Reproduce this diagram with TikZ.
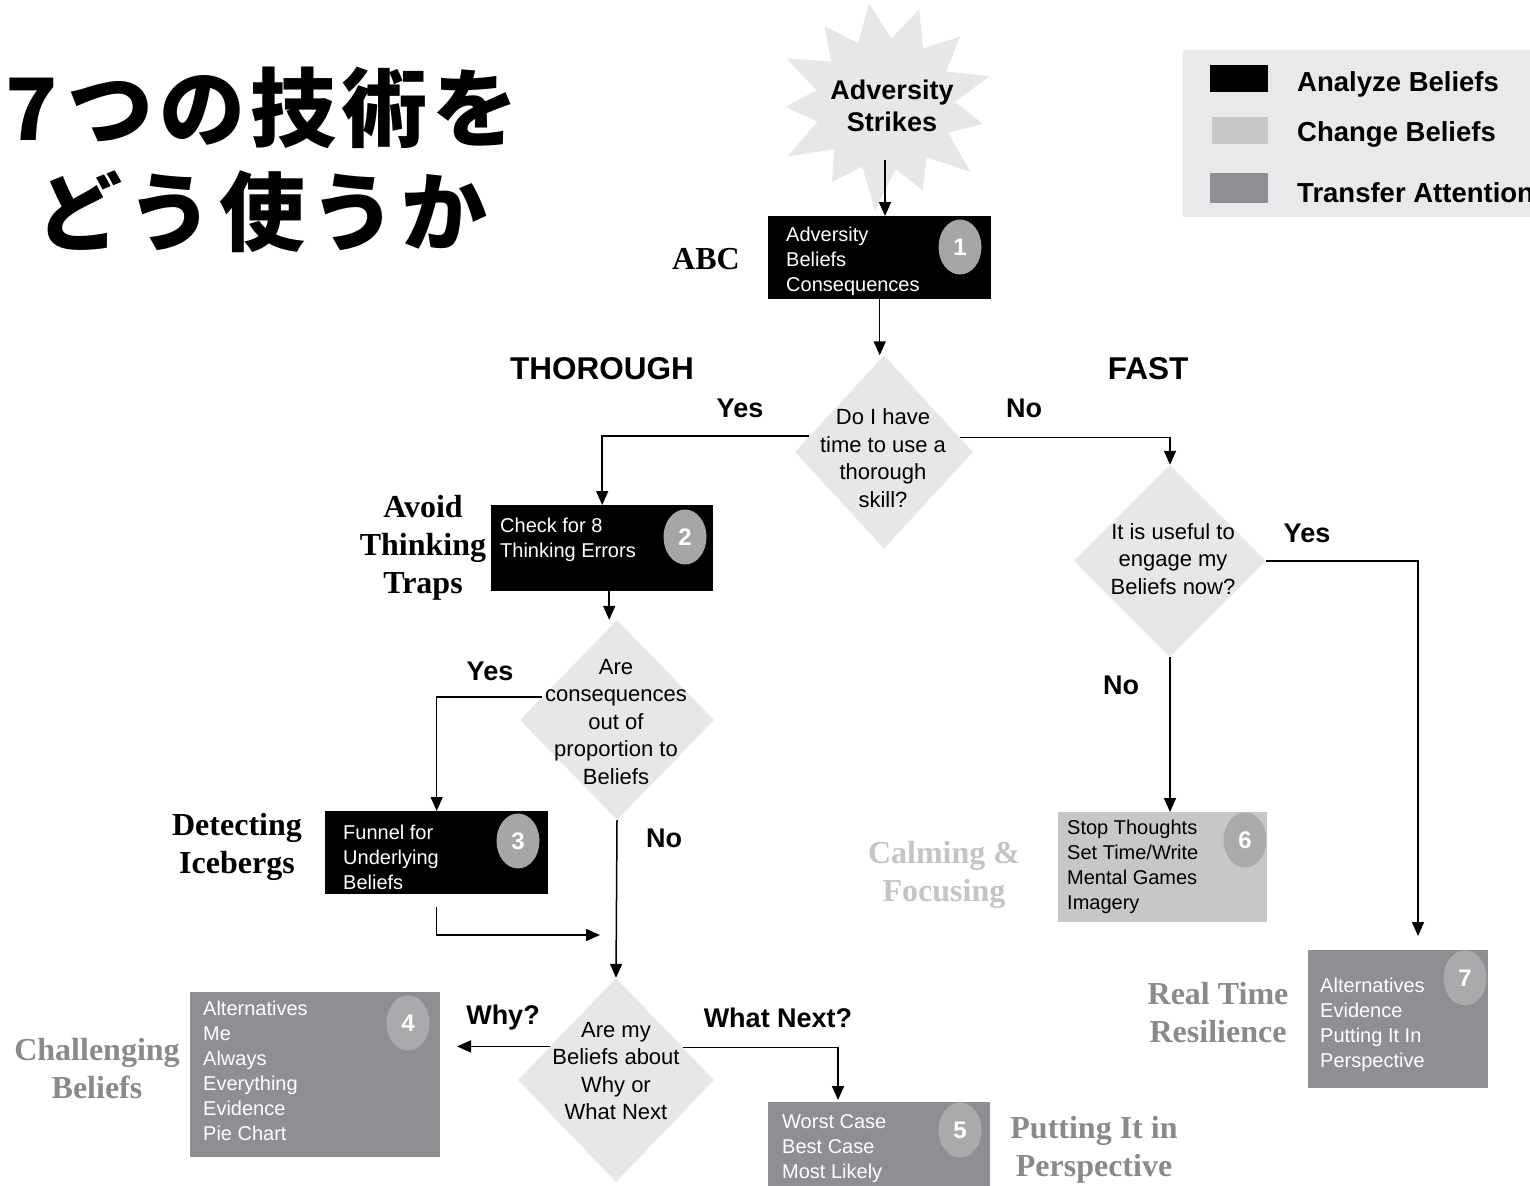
\documentclass[tikz,border=0pt]{standalone}
\usepackage{fontspec}
\setmainfont{Liberation Serif}
\setsansfont{Liberation Sans}
\newfontfamily\cjk{Noto Sans CJK JP}[LetterSpace=6]
\usetikzlibrary{shapes.geometric,arrows.meta,calc}
\definecolor{lightfill}{HTML}{E6E7E9}
\definecolor{legfill}{HTML}{E8E9EB}
\definecolor{midgray}{HTML}{8E8F92}
\definecolor{lightbox}{HTML}{C6C7C9}
\definecolor{circblack}{HTML}{A6A6A6}
\definecolor{circgray}{HTML}{A9AAAC}
\definecolor{labgray}{HTML}{8A8A8A}
\definecolor{labpale}{HTML}{C4C4C4}
\newcommand\fl{\rule{0pt}{15pt}}
\begin{document}
\begin{tikzpicture}[x=1pt,y=-1pt,
  ln/.style={line width=1.5pt},
  arr/.style={line width=1.5pt,-{Triangle[length=14pt,width=12pt]}},
  boxbase/.style={rectangle,inner sep=0,anchor=north west},
  blackbox/.style={boxbase,fill=black},
  graybox/.style={boxbase,fill=midgray},
  palebox/.style={boxbase,fill=lightbox},
  numc/.style={ellipse,minimum width=43pt,minimum height=55pt,inner sep=0,text=white,font=\sffamily\bfseries\fontsize{24}{24}\selectfont},
  btxt/.style={anchor=north west,inner sep=0,align=left,font=\sffamily\fontsize{20}{25}\selectfont},
  dia/.style={diamond,fill=lightfill,inner sep=0},
  dtxt/.style={align=center,inner sep=0,font=\sffamily\fontsize{22}{27.5}\selectfont},
  lbl/.style={inner sep=0,font=\sffamily\bfseries\fontsize{27}{27}\selectfont},
  head/.style={inner sep=0,font=\sffamily\bfseries\fontsize{31.5}{32}\selectfont},
  ser/.style={inner sep=0,align=center,font=\rmfamily\bfseries\fontsize{32}{38}\selectfont},
  legtxt/.style={anchor=west,inner sep=0,font=\sffamily\bfseries\fontsize{27.5}{28}\selectfont}
]
\useasboundingbox (0,0) rectangle (1530,1185);
\clip (0,0) rectangle (1530,1185);
\fill[white] (0,0) rectangle (1530,1185);

% title
\node[align=center,inner sep=0,font=\cjk\bfseries\fontsize{86}{104}\selectfont] (title) at (262,160) {7\hspace{10pt}つの技術を\\どう使うか};

% legend
\node[boxbase,fill=legfill,minimum width=347pt,minimum height=167pt] (leg) at (1183,50) {};
\node[boxbase,fill=black,minimum width=58pt,minimum height=27pt] (s1) at (1210,65) {};
\node[boxbase,fill=lightbox,minimum width=56pt,minimum height=27pt] (s2) at (1212,117) {};
\node[boxbase,fill=midgray,minimum width=58pt,minimum height=30pt] (s3) at (1210,173) {};
\node[legtxt] (l1) at (1297,84) {Analyze Beliefs};
\node[legtxt] (l2) at (1297,134) {Change Beliefs};
\node[legtxt] (l3) at (1297,193) {Transfer Attention};

% star
\fill[lightfill] plot[samples at={0,...,25},variable=\k]
  ({885+1.03*(mod(\k,2)==0?(102+7*sin(\k*97)):68)*cos(\k*13.846-71)},{104+(mod(\k,2)==0?(100+7*sin(\k*97)):66)*sin(\k*13.846-71)}) -- cycle;
\node[align=center,inner sep=0,font=\sffamily\bfseries\fontsize{27}{32}\selectfont] (stt) at (892,106) {Adversity\\Strikes};
\coordinate (st) at (885,160);

% boxes
\node[blackbox,minimum width=223pt,minimum height=83pt] (b1) at (768,216) {};
\node[blackbox,minimum width=222pt,minimum height=86pt] (b2) at (491,505) {};
\node[blackbox,minimum width=223pt,minimum height=83pt] (b3) at (325,811) {};
\node[graybox,minimum width=250pt,minimum height=165pt] (b4) at (190,992) {};
\node[graybox,minimum width=222pt,minimum height=90pt] (b5) at (768,1102) {};
\node[palebox,minimum width=209pt,minimum height=110pt] (b6) at (1058,812) {};
\node[graybox,minimum width=180pt,minimum height=138pt] (b7) at (1308,950) {};

\node[numc,fill=circblack] (c1) at (960,247) {1};
\node[numc,fill=circblack] (c2) at (685,537) {2};
\node[numc,fill=circblack] (c3) at (518,841) {3};
\node[numc,fill=circgray] (c4) at (408,1023) {4};
\node[numc,fill=circgray] (c5) at (960,1130) {5};
\node[numc,fill=circgray] (c6) at (1245,840) {6};
\node[numc,fill=circgray] (c7) at (1465,978) {7};

\node[btxt,text=white] (t1) at (786,226) {\fl Adversity\\Beliefs\\Consequences};
\node[btxt,text=white] (t2) at (500,517) {\fl Check for 8\\Thinking Errors};
\node[btxt,text=white] (t3) at (343,824) {\fl Funnel for\\Underlying\\Beliefs};
\node[btxt,text=white] (t4) at (203,1000) {\fl Alternatives\\Me\\Always\\Everything\\Evidence\\Pie Chart};
\node[btxt,text=white] (t5) at (782,1113) {\fl Worst Case\\Best Case\\Most Likely};
\node[btxt,text=black] (t6) at (1067,819) {\fl Stop Thoughts\\Set Time/Write\\Mental Games\\Imagery};
\node[btxt,text=white] (t7) at (1320,977) {\fl Alternatives\\Evidence\\Putting It In\\Perspective};

% diamonds
\node[dia,minimum width=178pt,minimum height=193pt] (d1) at (884,452) {};
\node[dia,minimum width=194pt,minimum height=200pt] (d2) at (617,720) {};
\node[dia,minimum width=196pt,minimum height=204pt] (d3) at (616,1080) {};
\node[dia,minimum width=192pt,minimum height=192pt] (d4) at (1170,561) {};
\node[dtxt] (dt1) at (883,458) {Do I have\\time to use a\\thorough\\skill?};
\node[dtxt] (dt2) at (616,722) {Are\\consequences\\out of\\proportion to\\Beliefs};
\node[dtxt] (dt3) at (616,1071) {Are my\\Beliefs about\\Why or\\What Next};
\node[dtxt] (dt4) at (1173,559) {It is useful to\\engage my\\Beliefs now?};

% side labels
\node[ser] (abc) at (706,259) {ABC};
\node[ser] (avoid) at (423,548) {Avoid\\Thinking\\Traps};
\node[ser] (ice) at (237,847) {Detecting\\Icebergs};
\node[ser,text=labgray] (chal) at (97,1069) {Challenging\\Beliefs};
\node[ser,text=labpale] (calm) at (944,875) {Calming \&\\Focusing};
\node[ser,text=labgray] (rtr) at (1218,1013) {Real Time\\Resilience};
\node[ser,text=labgray] (pip) at (1094,1150) {Putting It in\\Perspective};

\node[head] (thor) at (602,369) {THOROUGH};
\node[head] (fast) at (1148,369) {FAST};
\node[lbl] (y1) at (740,408) {Yes};
\node[lbl] (n1) at (1024,408) {No};
\node[lbl] (y2) at (490,671) {Yes};
\node[lbl] (n2) at (664,838) {No};
\node[lbl] (y3) at (1307,533) {Yes};
\node[lbl] (n3) at (1121,685) {No};
\node[lbl] (why) at (503,1018) {Why?};
\node[lbl] (wn) at (778,1018) {What Next?};

% connector end points
\coordinate (j) at (600,935);
\coordinate (w) at (457,1047);
\coordinate (e5) at (838,1100);
\coordinate (e7) at (1418,936);

% connectors
\draw[arr] (st) -- (st |- b1.north);
\draw[arr] (b1.south) -- (b1.south |- d1.north);
\draw[arr] (d1.168.7) -| (b2.north);
\draw[arr] (d1.11.3) -| (d4.north);
\draw[arr] ([xshift=7pt]b2.south) -- ([xshift=7pt]b2.south |- d2.north);
\draw[arr] (d2.163.8) -| (b3.north);
\draw[arr] (d2.south) -- (d3.north);
\draw[arr] ([yshift=-13pt]b3.south) |- (j);
\draw[arr] (d3.153.5) -- (d3.153.5 -| w);
\draw[arr] (d3.26.5) -| (e5);
\draw[arr] (d4.east) -| (e7);
\draw[arr] (d4.south) -- (d4.south |- b6.north);
\end{tikzpicture}
\end{document}
